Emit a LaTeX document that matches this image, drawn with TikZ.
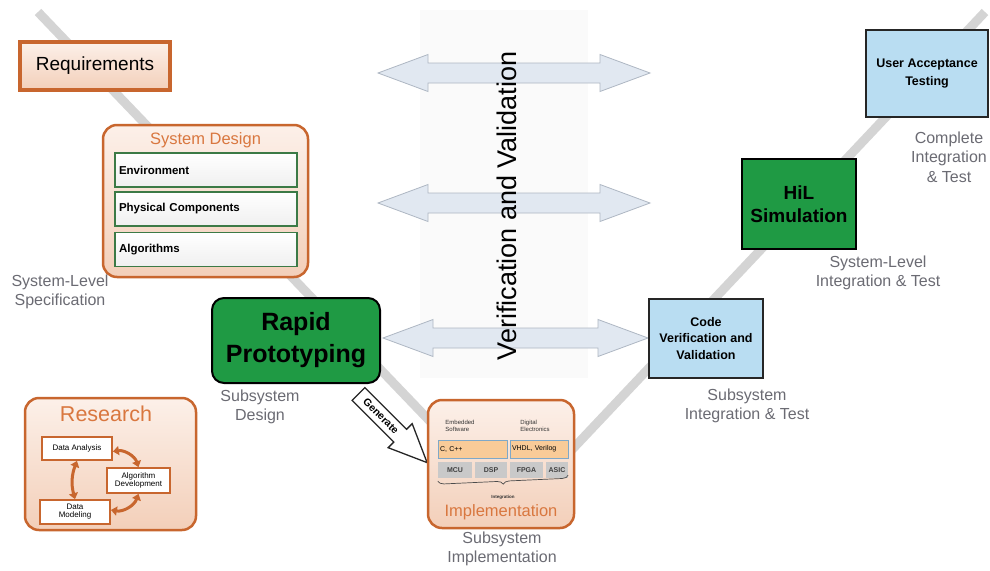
\documentclass[tikz,border=0pt]{standalone}
\usepackage{fontspec}
\setmainfont{Liberation Sans}
\usetikzlibrary{arrows.meta,decorations.pathreplacing}

\definecolor{orangeB}{HTML}{C8662E}
\definecolor{orangeT}{HTML}{D9773F}
\definecolor{peachT}{HTML}{FCF0E9}
\definecolor{peachB}{HTML}{F3CFB9}
\definecolor{protoGreen}{HTML}{1F9A44}
\definecolor{frameGreen}{HTML}{3C7A46}
\definecolor{testBlue}{HTML}{B9DDF2}
\definecolor{labelGray}{HTML}{6B6B73}
\definecolor{vLine}{HTML}{D4D4D4}
\definecolor{vvFill}{HTML}{E1E8F1}
\definecolor{vvDraw}{HTML}{AEB7C3}
\definecolor{bandGray}{HTML}{FAFAFA}
\definecolor{codeFill}{HTML}{F9CB98}
\definecolor{codeDraw}{HTML}{7FA8C8}
\definecolor{chipGray}{HTML}{C9C9C9}

\newcommand{\fs}[1]{\fontsize{#1}{#1}\selectfont}

% double-headed verification arrow between x=#1 and x=#2 at height #3
\newcommand{\vvarrow}[3]{%
  \draw[vvarrowstyle] (#1,#3) -- ({#1+50},{#3-18.5}) -- ({#1+50},{#3-10})
    -- ({#2-50},{#3-10}) -- ({#2-50},{#3-18.5}) -- (#2,#3)
    -- ({#2-50},{#3+18.5}) -- ({#2-50},{#3+10}) -- ({#1+50},{#3+10})
    -- ({#1+50},{#3+18.5}) -- cycle;}

\tikzset{
  vvarrowstyle/.style={fill=vvFill, draw=vvDraw, line width=0.8pt, line join=miter},
  peachbox/.style={draw=orangeB, top color=peachT, bottom color=peachB},
  innerbox/.style={draw=frameGreen, line width=1.8pt, top color=white, bottom color=gray!12,
    minimum height=34, text width=174, inner xsep=4, align=left, font=\fs{11.5}\bfseries},
  resbox/.style={draw=orangeB, line width=1.8pt, fill=white, inner sep=0, align=center, font=\fs{8}},
  greenbox/.style={draw=black, line width=2pt, fill=protoGreen, align=center, font=\bfseries},
  bluebox/.style={draw=black!85, line width=1.8pt, fill=testBlue, align=center, font=\fs{12.5}\bfseries},
  graylabel/.style={text=labelGray, align=center, font=\fontsize{16}{19.5}\selectfont, inner sep=0},
  codebox/.style={draw=codeDraw, line width=1pt, fill=codeFill, text width=#1, inner xsep=2,
    minimum height=18, align=left, font=\fs{7}},
  chipbox/.style={fill=chipGray, minimum height=16, inner sep=0, font=\fs{7}\bfseries, text=black!75},
  rarrow/.style={draw=orangeB, line width=3pt, {Triangle[length=6pt,width=9pt]}-{Triangle[length=6pt,width=9pt]}}
}

\begin{document}
\begin{tikzpicture}[x=1pt,y=-1pt]
\useasboundingbox (0,0) rectangle (990,570);
\fill[white] (0,0) rectangle (990,570);

% faint band behind the verification text
\fill[bandGray] (420,10) rectangle (588,378);

% the V of the development process
\draw[vLine, line width=9pt] (38,12) -- (515,510) -- (985,12);

% verification and validation arrows
\vvarrow{378}{650}{73}
\vvarrow{378}{650}{203}
\vvarrow{383}{648}{338}
\node[rotate=90, font=\fs{27}] (vv) at (507,206) {Verification and Validation};

% left side of the V
\node[peachbox, line width=4pt, minimum width=150, minimum height=48, font=\fs{19}] (req) at (95,66) {Requirements};

\node[peachbox, line width=2.5pt, rounded corners=14, minimum width=205, minimum height=152] (sysd) at (205.5,201) {};
\node[text=orangeT, font=\fs{16.5}] (sysdt) at (205.5,140) {System Design};
\node[innerbox] (env) at (206,170) {Environment};
\node[innerbox] (phys) at (206,209) {Physical Components};
\node[innerbox] (alg) at (206,249.5) {Algorithms};
\node[graylabel] (sls) at (60,292) {System-Level\\Specification};

\node[greenbox, rounded corners=12, minimum width=168, minimum height=85, font=\fontsize{25}{32}\selectfont\bfseries] (rp) at (296,340.5) {Rapid\\Prototyping};
\node[graylabel] (ssd) at (260,407) {Subsystem\\Design};

% research
\node[peachbox, line width=2.5pt, rounded corners=14, minimum width=171, minimum height=132] (res) at (110.5,464) {};
\node[text=orangeT, font=\fs{21.5}] (rest) at (106,414) {Research};
\node[resbox, minimum width=70, minimum height=23] (da) at (77,448.5) {Data Analysis};
\node[resbox, minimum width=63, minimum height=25] (ad) at (138.5,480.5) {Algorithm\\Development};
\node[resbox, minimum width=70, minimum height=24] (dm) at (75,512) {Data\\Modeling};
\draw[rarrow] (da.south) to[bend right=18] (dm.north);
\draw[rarrow] ([yshift=-3]da.east) to[bend left=40] (ad.north);
\draw[rarrow] (ad.south) to[bend left=40] ([yshift=2]dm.east);

% generate arrow
\draw[fill=white, draw=black!85, line width=1.3pt, line join=miter]
  (364.9,387.6) -- (406.6,429.3) -- (412.2,423.7) -- (427.1,462.6)
  -- (388.2,447.7) -- (393.8,442.1) -- (352.1,400.4) -- cycle;
\node[rotate=-45, font=\fs{10.5}\bfseries, inner sep=0] (gen) at (381,416) {Generate};

% implementation
\node[peachbox, line width=2.5pt, rounded corners=14, minimum width=146, minimum height=128] (impl) at (501,464) {};
\node[align=left, font=\fontsize{6}{6.5}\selectfont, text=black!80, inner sep=0] (emb) at (460,426) {Embedded\\Software};
\node[align=left, font=\fontsize{6}{6.5}\selectfont, text=black!80, inner sep=0] (dig) at (535,426) {Digital\\Electronics};
\node[codebox=65] (cc) at (472.5,449) {C, C++};
\node[codebox=54] (hdl) at (539,449) {VHDL, Verilog};
\node[chipbox, minimum width=34] (mcu) at (455,470) {MCU};
\node[chipbox, minimum width=32] (dsp) at (491,470) {DSP};
\node[chipbox, minimum width=33] (fpga) at (526.5,470) {FPGA};
\node[chipbox, minimum width=22] (asic) at (557,470) {ASIC};
\draw[decorate, decoration={brace, mirror, amplitude=6}, draw=black!70, line width=0.7pt] (mcu.south west) ++(0,3) -- ([yshift=3]asic.south east);
\node[font=\fs{4.5}\bfseries, text=black!80] (integ) at (503,497) {Integration};
\node[text=orangeT, font=\fs{16.5}] (implt) at (501,512) {Implementation};
\node[graylabel] (ssi) at (502,549) {Subsystem\\Implementation};

% right side of the V
\node[bluebox, minimum width=114, minimum height=79, font=\fontsize{12.5}{16.5}\selectfont\bfseries] (cvv) at (706,338.5) {Code\\Verification and\\Validation};
\node[graylabel] (sit) at (747,406) {Subsystem\\Integration \& Test};

\node[greenbox, minimum width=114, minimum height=90, font=\fontsize{19}{23}\selectfont\bfseries] (hil) at (799,204) {HiL\\Simulation};
\node[graylabel] (slit) at (878,273) {System-Level\\Integration \& Test};

\node[bluebox, minimum width=122, minimum height=87, font=\fontsize{12.5}{17.5}\selectfont\bfseries] (uat) at (927,73.5) {User Acceptance\\Testing};
\node[graylabel] (cit) at (949,157) {Complete\\Integration\\\& Test};
\end{tikzpicture}
\end{document}
